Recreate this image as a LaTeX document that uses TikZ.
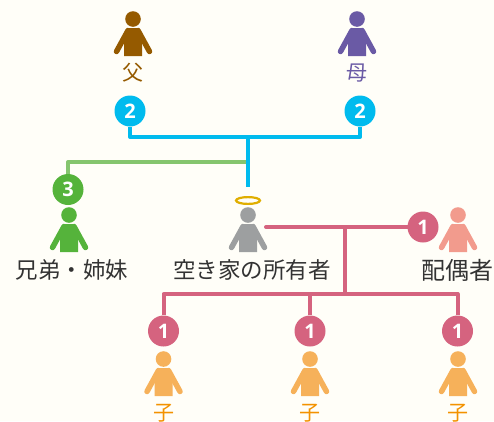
\documentclass[tikz,border=0pt]{standalone}
\usepackage{fontspec}
\newfontfamily\jpfont{Noto Sans CJK JP}
\newfontfamily\numfont{Open Sans}
\definecolor{bgcol}{HTML}{FFFEF8}
\definecolor{bluecol}{HTML}{00BBEE}
\definecolor{leafcol}{HTML}{85C56E}
\definecolor{greencol}{HTML}{55B33B}
\definecolor{browncol}{HTML}{955A00}
\definecolor{purplecol}{HTML}{6A5AA5}
\definecolor{graycol}{HTML}{9D9FA0}
\definecolor{pinkcol}{HTML}{D5637F}
\definecolor{orangecol}{HTML}{F6B15A}
\definecolor{salmoncol}{HTML}{F29B8D}
\definecolor{goldcol}{HTML}{E0AE00}
\definecolor{kocol}{HTML}{F39200}
\definecolor{inkcol}{HTML}{333333}
\tikzset{
  badge/.style={circle, fill=#1, text=white, minimum size=31pt, inner sep=0pt, font=\numfont\bfseries\fontsize{20}{20}\selectfont},
  link/.style={line width=4pt, line join=round, draw=#1},
  biglabel/.style={text=inkcol, inner sep=0pt, font=\jpfont\fontsize{22.5}{24}\selectfont},
  smalllabel/.style={text=#1, inner sep=0pt, font=\jpfont\fontsize{21}{24}\selectfont},
  pics/person/.style={code={
    \fill[#1] (0,0) circle (7.8);
    \fill[#1] (-9,37) -- (-9,15) -- (-6,9) -- (6,9) -- (9,15) -- (9,37) -- cycle;
    \draw[#1, line width=5.5pt, line cap=round] (-5,11.5) -- (-16.5,32.5) (5,11.5) -- (16.5,32.5);
  }},
}

\begin{document}
\begin{tikzpicture}[x=1pt, y=-1pt]
  \fill[bgcol] (0,0) rectangle (494,421);
  \clip (0,0) rectangle (494,421);

  % parents
  \pic at (133,19) {person=browncol};
  \pic at (357,19) {person=purplecol};
  \node[smalllabel=browncol] (father) at (133,73) {\char"7236};
  \node[smalllabel=purplecol] (mother) at (357,73) {\char"6BCD};
  \node[badge=bluecol] (two1) at (130,111) {2};
  \node[badge=bluecol] (two2) at (360,111) {2};

  % siblings
  \node[badge=greencol] (three) at (68,189.5) {3};
  \pic at (69,215) {person=greencol};
  \node[biglabel] (sibling) at (72,270) {\char"5144\char"5F1F\char"30FB\char"59C9\char"59B9};

  % owner
  \pic at (248,215) {person=graycol};
  \draw[goldcol, line width=2.2pt] (248,200.5) ellipse (12 and 3.4);
  \node[biglabel] (owner) at (252,270) {\char"7A7A\char"304D\char"5BB6\char"306E\char"6240\char"6709\char"8005};

  % spouse
  \node[badge=pinkcol] (one0) at (423,227) {1};
  \pic at (458,215) {person=salmoncol};
  \node[biglabel, font=\jpfont\fontsize{24}{24}\selectfont] (spouse) at (457,270) {\char"914D\char"5076\char"8005};

  % children
  \node[badge=pinkcol] (one1) at (163.5,331) {1};
  \node[badge=pinkcol] (one2) at (310,331) {1};
  \node[badge=pinkcol] (one3) at (457.5,331) {1};
  \pic at (163.5,359) {person=orangecol};
  \pic at (310,359) {person=orangecol};
  \pic at (458,359) {person=orangecol};
  \node[smalllabel=kocol] (child1) at (163.5,413) {\char"5B50};
  \node[smalllabel=kocol] (child2) at (310,413) {\char"5B50};
  \node[smalllabel=kocol] (child3) at (458,413) {\char"5B50};

  % connectors
  \coordinate (parentbar) at (248,137);
  \coordinate (ownertop) at (248,187);
  \coordinate (sibjoin) at (248,162);
  \coordinate (ownerside) at (266,227);
  \coordinate (spousejoin) at (345,227);
  \coordinate (kidbar) at (345,294);
  \draw[link=leafcol] (three) |- (sibjoin);
  \draw[link=bluecol] (two1) |- (parentbar);
  \draw[link=bluecol] (two2) |- (parentbar);
  \draw[link=bluecol] (parentbar) -- (ownertop);
  \draw[link=pinkcol, line cap=round] (ownerside) -- (one0);
  \draw[link=pinkcol] (spousejoin) -- (kidbar);
  \draw[link=pinkcol] (one1) |- (kidbar);
  \draw[link=pinkcol] (one3) |- (kidbar);
  \draw[link=pinkcol] (one2) -- (one2 |- kidbar);
\end{tikzpicture}
\end{document}
